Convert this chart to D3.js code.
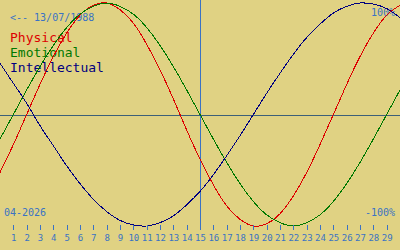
<!DOCTYPE html>
<html>
<head>
  <title>Biorhythm</title>
  <script src="https://d3js.org/d3.v7.min.js"></script>
  <style>
    body { margin: 0; background: #e0d283; }
    svg { display: block; }
  </style>
</head>
<body>
  <svg id="chart"></svg>
  <script>
    // day of month, 0..30 (0 = last day of previous month)
    const days = d3.range(0, 31);
    const tickDays = d3.range(1, 30);
    const physical = [-0.52, -0.27, 0, 0.27, 0.52, 0.73, 0.89, 0.98, 1.00, 0.94, 0.82, 0.63, 0.40, 0.14, -0.14, -0.40,
      -0.63, -0.82, -0.94, -1.00, -0.98, -0.89, -0.73, -0.52, -0.27, 0, 0.27, 0.52, 0.73, 0.89, 0.98];
    const emotional = [-0.22, 0, 0.22, 0.43, 0.62, 0.78, 0.90, 0.97, 1.00, 0.97, 0.90, 0.78, 0.62, 0.43, 0.22, 0,
      -0.22, -0.43, -0.62, -0.78, -0.90, -0.97, -1.00, -0.97, -0.90, -0.78, -0.62, -0.43, -0.22, 0, 0.22];
    const intellectual = [0.46, 0.28, 0.10, -0.10, -0.28, -0.46, -0.62, -0.76, -0.87, -0.95, -0.99, -1.00, -0.97, -0.91,
      -0.81, -0.69, -0.54, -0.37, -0.19, 0, 0.19, 0.37, 0.54, 0.69, 0.81, 0.91, 0.97, 1.00, 0.99, 0.95, 0.87];
    const today = 15;
    const birthLabel = "<-- 13/07/1988";
    const monthLabel = "04-2026";
    const legend = ["Physical", "Emotional", "Intellectual"];

    const width = 400, height = 250;
    const blue = "#3a72c4";
    const colors = ["#dd0000", "#007800", "#000080"];

    const svg = d3.select("#chart")
      .attr("width", width)
      .attr("height", height);

    svg.append("rect").attr("width", width).attr("height", height).attr("fill", "#e0d283");

    const x = d3.scaleLinear().domain([0, 30]).range([0, width]);
    const y = d3.scaleLinear().domain([-1, 1]).range([226, 3]);

    const mono = (sel) => sel.attr("font-family", "DejaVu Sans Mono");

    // labels go under the curves
    svg.append("text").call(mono)
      .attr("x", 10).attr("y", 21).attr("font-size", 10).attr("fill", blue)
      .text(birthLabel);

    legend.forEach((t, i) => {
      svg.append("text").call(mono)
        .attr("x", 10).attr("y", 42 + i * 15).attr("font-size", 13).attr("fill", colors[i])
        .text(t);
    });

    svg.append("text").call(mono)
      .attr("x", 395).attr("y", 16).attr("font-size", 10).attr("fill", blue)
      .attr("text-anchor", "end").text("100%");

    svg.append("text").call(mono)
      .attr("x", 395).attr("y", 216).attr("font-size", 10).attr("fill", blue)
      .attr("text-anchor", "end").text("-100%");

    svg.append("text").call(mono)
      .attr("x", 4).attr("y", 216).attr("font-size", 10).attr("fill", blue)
      .text(monthLabel);

    // zero line
    svg.append("line")
      .attr("x1", 0).attr("x2", width)
      .attr("y1", Math.round(y(0)) + 0.5).attr("y2", Math.round(y(0)) + 0.5)
      .attr("stroke", "#3d6078");

    // today marker
    svg.append("line")
      .attr("x1", x(today) + 0.5).attr("x2", x(today) + 0.5)
      .attr("y1", 0).attr("y2", 229)
      .attr("stroke", blue);

    const line = d3.line()
      .x((d, i) => x(days[i]))
      .y(d => y(d))
      .curve(d3.curveNatural);

    [physical, emotional, intellectual].forEach((s, i) => {
      svg.append("path")
        .datum(s)
        .attr("fill", "none")
        .attr("stroke", colors[i])
        .attr("stroke-width", 1)
        .attr("shape-rendering", "crispEdges")
        .attr("d", line);
    });

    // day axis
    const axis = svg.append("g").attr("transform", "translate(0,225)");
    axis.selectAll("line.tick")
      .data(tickDays)
      .enter().append("line")
      .attr("x1", d => Math.round(x(d)) + 0.5)
      .attr("x2", d => Math.round(x(d)) + 0.5)
      .attr("y1", 0).attr("y2", 5)
      .attr("stroke", blue);
    axis.selectAll("text")
      .data(tickDays)
      .enter().append("text")
      .attr("x", d => x(d) + 0.5)
      .attr("y", 16)
      .attr("text-anchor", "middle")
      .attr("font-family", "DejaVu Sans Mono")
      .attr("font-size", 9)
      .attr("fill", blue)
      .text(d => d);
  </script>
</body>
</html>
